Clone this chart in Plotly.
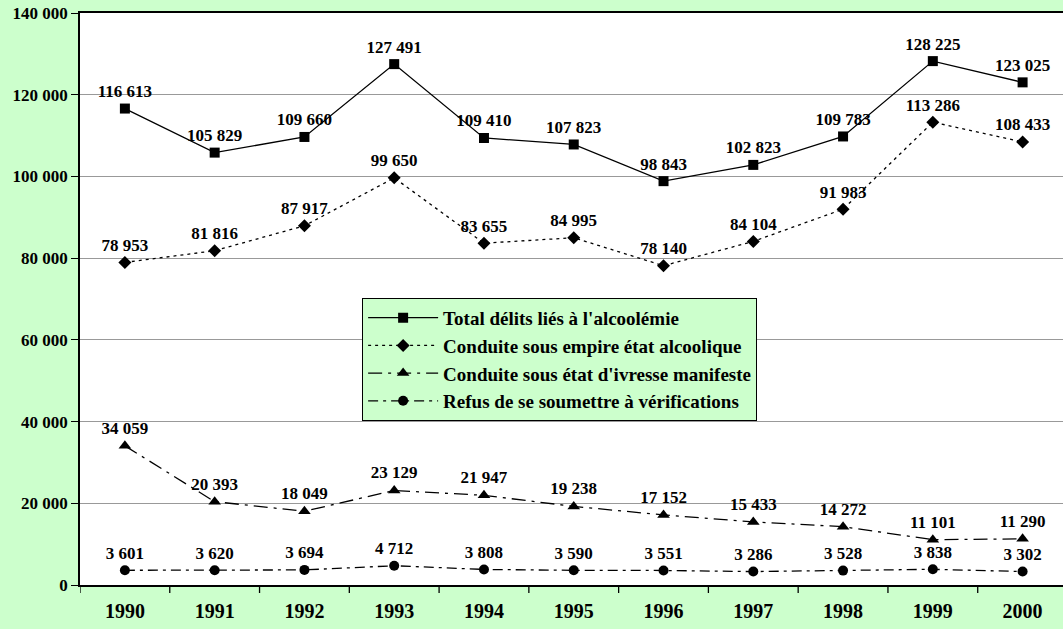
import plotly.graph_objects as go

years = ["1990", "1991", "1992", "1993", "1994", "1995", "1996", "1997", "1998", "1999", "2000"]
total = [116613, 105829, 109660, 127491, 109410, 107823, 98843, 102823, 109783, 128225, 123025]
empire = [78953, 81816, 87917, 99650, 83655, 84995, 78140, 84104, 91983, 113286, 108433]
ivresse = [34059, 20393, 18049, 23129, 21947, 19238, 17152, 15433, 14272, 11101, 11290]
refus = [3601, 3620, 3694, 4712, 3808, 3590, 3551, 3286, 3528, 3838, 3302]

names = ["Total délits liés à l'alcoolémie",
         "Conduite sous empire état alcoolique",
         "Conduite sous état d'ivresse manifeste",
         "Refus de se soumettre à vérifications"]

FONT = "Liberation Serif, Times New Roman, serif"
BG = "#CCFFCC"

def fmt(v):
    return f"{v:,}".replace(",", " ")

fig = go.Figure()
series = [
    (total, names[0], "solid", "square", 10),
    (empire, names[1], "3px,4px", "diamond", 10),
    (ivresse, names[2], "14px,6px,3px,6px", "triangle-up", 11),
    (refus, names[3], "10px,5px,3px,5px", "circle", 10),
]
xs = list(range(len(years)))
for vals, name, dash, sym, ms in series:
    fig.add_trace(go.Scatter(
        x=xs, y=vals, name=name, mode="lines+markers+text",
        line=dict(color="black", width=1.3, dash=dash),
        marker=dict(symbol=sym, size=ms, color="black"),
        text=[f"<b>{fmt(v)}</b>" for v in vals], textposition="top center",
        textfont=dict(family=FONT, size=17, color="black"),
        cliponaxis=False,
    ))

fig.update_layout(
    width=1063, height=629,
    paper_bgcolor=BG, plot_bgcolor="white",
    margin=dict(l=80, r=0, t=13, b=44),
    font=dict(family=FONT, color="black"),
    separators=". ",
    showlegend=True,
    legend=dict(
        x=0.287, y=0.502, xanchor="left", yanchor="top",
        bgcolor=BG, bordercolor="black", borderwidth=1,
        font=dict(family=FONT, size=19, color="black", weight="bold"),
        tracegroupgap=0, itemwidth=70,
    ),
)
fig.update_xaxes(
    range=[-0.5, 10.45], tickmode="array", tickvals=xs, ticktext=[f"<b>{y}</b>" for y in years],
    showgrid=False, showline=True, linecolor="black", linewidth=1.5, mirror=True,
    ticks="", tickfont=dict(family=FONT, size=20, color="black"), zeroline=False,
    automargin=False, ticklabelstandoff=7,
)
# tick marks at category boundaries
for i in range(len(years) + 1):
    fig.add_shape(type="line", xref="x", yref="paper", x0=i - 0.5, x1=i - 0.5, y0=0, y1=-0.014,
                  line=dict(color="black", width=1.3))
fig.update_yaxes(
    range=[0, 140000], dtick=20000, tickformat=",d",
    showgrid=True, gridcolor="#999999", gridwidth=1,
    showline=True, linecolor="black", linewidth=1.5,
    ticks="outside", ticklen=7, tickcolor="black",
    tickfont=dict(family=FONT, size=17, color="black", weight="bold"), zeroline=False,
    automargin=False,
)
fig.write_html("out.html", config={"displayModeBar": False},
               post_script="document.body.style.margin='0';document.body.style.background='#CCFFCC';")
